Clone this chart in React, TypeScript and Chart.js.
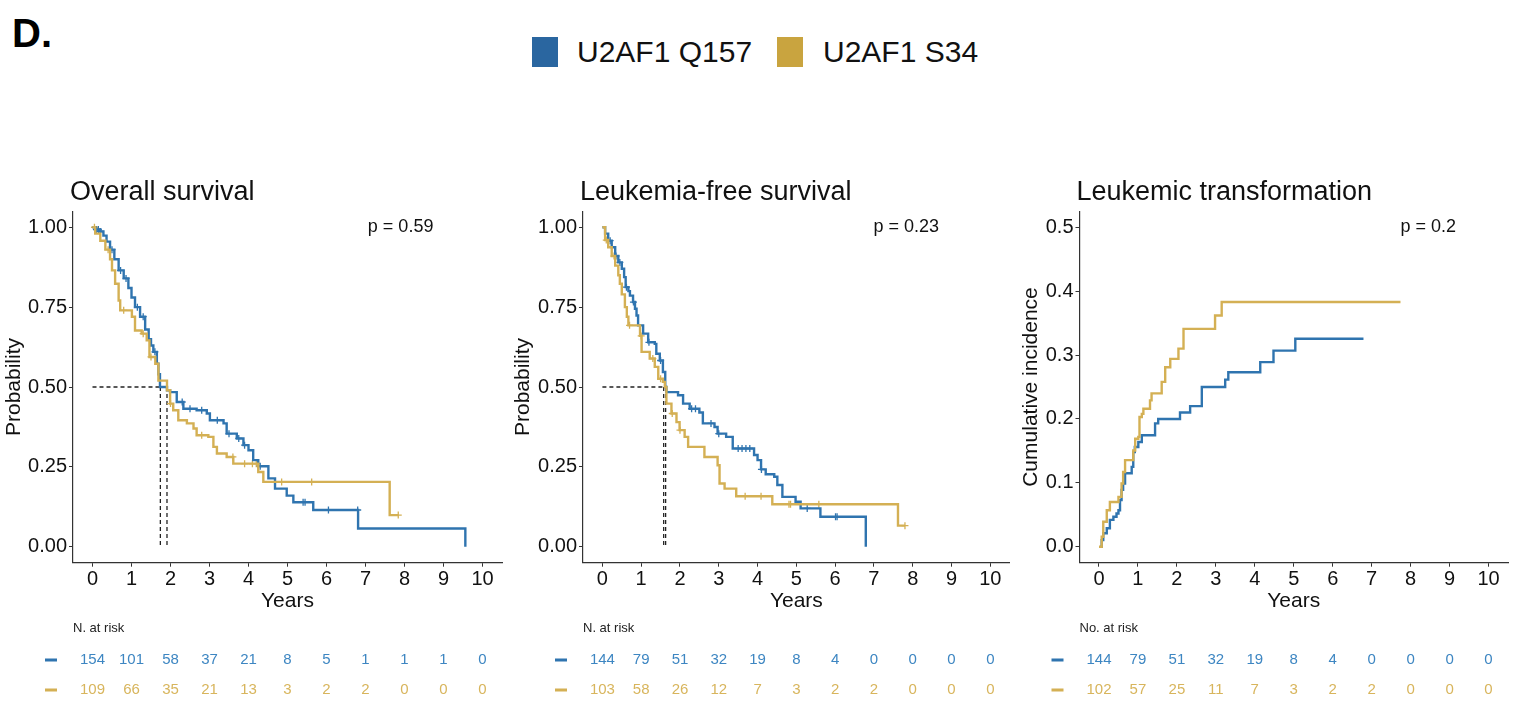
import React, { useEffect, useRef } from 'react';
import { Chart, registerables } from 'chart.js';

Chart.register(...registerables);

// ---------------- DATA ----------------
const X_TICKS = [0, 1, 2, 3, 4, 5, 6, 7, 8, 9, 10];
const SURV_TICKS = [0, 0.25, 0.5, 0.75, 1.0];
const CI_TICKS = [0, 0.1, 0.2, 0.3, 0.4, 0.5];
const GROUPS = ['U2AF1 Q157', 'U2AF1 S34'];

// Overall survival
const osQ157Time = [0, 0.08, 0.2, 0.28, 0.36, 0.45, 0.56, 0.67, 0.8, 0.92, 1.0, 1.09, 1.22, 1.35, 1.44, 1.5, 1.56, 1.65, 1.69, 1.73, 1.91, 1.99, 2.16, 2.33, 2.67, 2.93, 3.01, 3.36, 3.44, 3.7, 3.87, 4.0, 4.12, 4.25, 4.51, 4.68, 4.98, 5.15, 5.66, 6.81, 9.56];
const osQ157Surv = [1.0, 0.993, 0.987, 0.974, 0.955, 0.93, 0.9, 0.865, 0.84, 0.81, 0.78, 0.75, 0.72, 0.68, 0.65, 0.63, 0.61, 0.573, 0.54, 0.5, 0.49, 0.484, 0.453, 0.432, 0.427, 0.417, 0.396, 0.386, 0.354, 0.339, 0.318, 0.302, 0.271, 0.252, 0.214, 0.182, 0.16, 0.139, 0.115, 0.057, 0];
const osQ157Cens = [0.1, 0.15, 0.2, 0.5, 0.72, 0.86, 1.15, 1.3, 1.6, 2.3, 2.5, 2.8, 3.2, 3.5, 3.75, 3.9, 4.3, 5.4, 5.45, 6.05, 6.8];
const osS34Time = [0, 0.07, 0.2, 0.33, 0.45, 0.5, 0.58, 0.67, 0.71, 1.01, 1.09, 1.26, 1.39, 1.46, 1.61, 1.69, 1.91, 1.99, 2.07, 2.2, 2.42, 2.59, 2.67, 2.97, 3.1, 3.19, 3.44, 3.61, 4.25, 4.38, 7.62, 7.84];
const osS34Surv = [1.0, 0.98, 0.958, 0.93, 0.9, 0.865, 0.823, 0.771, 0.74, 0.72, 0.677, 0.667, 0.646, 0.594, 0.573, 0.52, 0.49, 0.448, 0.427, 0.396, 0.386, 0.37, 0.349, 0.344, 0.3125, 0.292, 0.281, 0.26, 0.234, 0.203, 0.099, 0.099];
const osS34Cens = [0.05, 0.4, 0.8, 1.3, 1.5, 2.0, 2.8, 3.6, 3.9, 4.1, 4.2, 4.85, 5.62, 7.84];
const osMedians = [1.74, 1.91];
const osRiskQ157 = [154, 101, 58, 37, 21, 8, 5, 1, 1, 1, 0];
const osRiskS34 = [109, 66, 35, 21, 13, 3, 2, 2, 0, 0, 0];

// Leukemia-free survival
const lfsQ157Time = [0, 0.07, 0.15, 0.24, 0.33, 0.41, 0.5, 0.56, 0.6, 0.67, 0.71, 0.79, 0.84, 0.88, 0.92, 1.05, 1.18, 1.35, 1.39, 1.48, 1.56, 1.62, 1.65, 1.95, 2.08, 2.25, 2.5, 2.59, 2.89, 2.97, 3.19, 3.36, 3.91, 4.0, 4.09, 4.21, 4.43, 4.51, 4.64, 4.98, 5.11, 5.62, 6.79];
const lfsQ157Surv = [1.0, 0.98, 0.958, 0.9375, 0.91, 0.89, 0.87, 0.844, 0.8125, 0.8, 0.786, 0.766, 0.745, 0.724, 0.693, 0.667, 0.64, 0.635, 0.604, 0.583, 0.547, 0.5, 0.484, 0.474, 0.448, 0.432, 0.42, 0.386, 0.375, 0.354, 0.344, 0.3075, 0.287, 0.271, 0.242, 0.227, 0.219, 0.193, 0.156, 0.141, 0.12, 0.094, 0];
const lfsQ157Cens = [0.2, 0.35, 0.45, 0.62, 0.8, 1.2, 1.5, 2.3, 2.4, 2.8, 3.0, 3.5, 3.6, 3.7, 3.8, 4.1, 5.28, 6.01, 6.05];
const lfsS34Time = [0, 0.07, 0.15, 0.24, 0.33, 0.41, 0.45, 0.5, 0.58, 0.63, 0.67, 0.97, 1.01, 1.22, 1.35, 1.44, 1.56, 1.61, 1.65, 1.78, 1.91, 1.99, 2.12, 2.21, 2.63, 2.97, 3.02, 3.15, 3.45, 4.38, 7.62, 7.8];
const lfsS34Surv = [1.0, 0.96, 0.9375, 0.91, 0.88, 0.85, 0.823, 0.79, 0.75, 0.72, 0.693, 0.66, 0.61, 0.589, 0.563, 0.526, 0.516, 0.5, 0.448, 0.417, 0.39, 0.365, 0.344, 0.3125, 0.281, 0.255, 0.198, 0.182, 0.158, 0.133, 0.066, 0.066];
const lfsS34Cens = [0.1, 0.3, 0.7, 1.0, 1.3, 1.5, 1.8, 2.0, 3.68, 4.09, 4.81, 4.85, 5.58, 7.8];
const lfsMedians = [1.58, 1.63];
const lfsRiskQ157 = [144, 79, 51, 32, 19, 8, 4, 0, 0, 0, 0];
const lfsRiskS34 = [103, 58, 26, 12, 7, 3, 2, 2, 0, 0, 0];

// Leukemic transformation (cumulative incidence)
const ltQ157Time = [0.03, 0.07, 0.11, 0.2, 0.28, 0.37, 0.45, 0.5, 0.54, 0.58, 0.62, 0.67, 0.84, 0.88, 0.92, 1.01, 1.1, 1.44, 1.52, 2.08, 2.34, 2.64, 3.24, 3.32, 4.14, 4.48, 5.04, 6.79];
const ltQ157Inc = [0, 0.0104, 0.021, 0.029, 0.042, 0.047, 0.052, 0.057, 0.073, 0.089, 0.099, 0.115, 0.125, 0.148, 0.156, 0.164, 0.1745, 0.193, 0.2, 0.21, 0.22, 0.25, 0.2615, 0.273, 0.289, 0.307, 0.3255, 0.3255];
const ltS34Time = [0, 0.07, 0.11, 0.2, 0.28, 0.5, 0.58, 0.62, 0.67, 0.88, 0.93, 1.01, 1.04, 1.1, 1.14, 1.31, 1.35, 1.61, 1.7, 1.83, 2.04, 2.17, 2.98, 3.15, 7.74];
const ltS34Inc = [0, 0.0156, 0.039, 0.057, 0.07, 0.078, 0.099, 0.117, 0.1355, 0.1505, 0.169, 0.172, 0.203, 0.208, 0.216, 0.229, 0.24, 0.258, 0.281, 0.294, 0.31, 0.341, 0.362, 0.383, 0.383];
const ltRiskQ157 = [144, 79, 51, 32, 19, 8, 4, 0, 0, 0, 0];
const ltRiskS34 = [102, 57, 25, 11, 7, 3, 2, 2, 0, 0, 0];

// ---------------- STYLE ----------------
const FONT = '"Liberation Sans", Arial, Helvetica, sans-serif';
const BLUE = '#2F74AF';
const GOLD = '#D4B054';
const BLUE_TXT = '#3D86C2';
const GOLD_TXT = '#D8B55C';
const AXIS = '#333333';
const CANVAS_TOP = 150;
const CANVAS_H = 557;

const pts = (t: number[], v: number[]) => t.map((x, i) => ({ x, y: v[i] }));
const stepAt = (t: number[], v: number[], x: number) => {
  let y = v[0];
  for (let i = 0; i < t.length; i++) if (t[i] <= x) y = v[i];
  return y;
};
const censPts = (t: number[], v: number[], c: number[]) => c.map((x) => ({ x, y: stepAt(t, v, x) }));

type Panel = {
  left: number; width: number; yWidth: number; padRight: number;
  title: string; yTitle: string; yTitleX: number;
  yMin: number; yMax: number; yTicks: number[]; yDigits: number;
  pText: string; pX: number; pY: number;
  riskLabel: string; riskA: number[]; riskB: number[];
  aT: number[]; aV: number[]; bT: number[]; bV: number[];
  aC?: number[]; bC?: number[]; medians?: number[];
};

const PANELS: Panel[] = [
  {
    left: 0, width: 510, yWidth: 73, padRight: 8,
    title: 'Overall survival', yTitle: 'Probability', yTitleX: 20,
    yMin: -0.05, yMax: 1.05, yTicks: SURV_TICKS, yDigits: 2,
    pText: 'p = 0.59', pX: 7.06, pY: 1.0,
    riskLabel: 'N. at risk', riskA: osRiskQ157, riskB: osRiskS34,
    aT: osQ157Time, aV: osQ157Surv, bT: osS34Time, bV: osS34Surv,
    aC: osQ157Cens, bC: osS34Cens, medians: osMedians,
  },
  {
    left: 510, width: 505, yWidth: 73, padRight: 3,
    title: 'Leukemia-free survival', yTitle: 'Probability', yTitleX: 529,
    yMin: -0.05, yMax: 1.05, yTicks: SURV_TICKS, yDigits: 2,
    pText: 'p = 0.23', pX: 6.99, pY: 1.0,
    riskLabel: 'N. at risk', riskA: lfsRiskQ157, riskB: lfsRiskS34,
    aT: lfsQ157Time, aV: lfsQ157Surv, bT: lfsS34Time, bV: lfsS34Surv,
    aC: lfsQ157Cens, bC: lfsS34Cens, medians: lfsMedians,
  },
  {
    left: 1015, width: 511, yWidth: 64.5, padRight: 18,
    title: 'Leukemic transformation', yTitle: 'Cumulative incidence', yTitleX: 1037,
    yMin: -0.025, yMax: 0.525, yTicks: CI_TICKS, yDigits: 1,
    pText: 'p = 0.2', pX: 7.74, pY: 0.5,
    riskLabel: 'No. at risk', riskA: ltRiskQ157, riskB: ltRiskS34,
    aT: ltQ157Time, aV: ltQ157Inc, bT: ltS34Time, bV: ltS34Inc,
  },
];

function makeTextPlugin(p: Panel) {
  return {
    id: 'panelText',
    afterDraw(chart: any) {
      const { ctx, chartArea, scales } = chart;
      const xs = scales.x;
      const ys = scales.y;
      ctx.save();
      ctx.fillStyle = '#111';
      // title
      ctx.font = `27px ${FONT}`;
      ctx.textAlign = 'left';
      ctx.textBaseline = 'alphabetic';
      ctx.fillText(p.title, chartArea.left - 3, 200 - CANVAS_TOP);
      // p value
      ctx.font = `18px ${FONT}`;
      ctx.textBaseline = 'middle';
      ctx.fillText(p.pText, xs.getPixelForValue(p.pX), ys.getPixelForValue(p.pY));
      // x title
      ctx.font = `21px ${FONT}`;
      ctx.textAlign = 'center';
      ctx.textBaseline = 'alphabetic';
      ctx.fillText('Years', (chartArea.left + chartArea.right) / 2, 607 - CANVAS_TOP);
      // y title
      ctx.save();
      ctx.translate(p.yTitleX - p.left, (chartArea.top + chartArea.bottom) / 2);
      ctx.rotate(-Math.PI / 2);
      ctx.fillText(p.yTitle, 0, 0);
      ctx.restore();
      // risk table
      ctx.fillStyle = '#222';
      ctx.font = `13px ${FONT}`;
      ctx.textAlign = 'left';
      ctx.fillText(p.riskLabel, chartArea.left, 632 - CANVAS_TOP);
      const rowA = 660 - CANVAS_TOP;
      const rowB = 690 - CANVAS_TOP;
      ctx.fillStyle = BLUE;
      ctx.fillRect(chartArea.left - 28, rowA - 1.5, 12, 3);
      ctx.fillStyle = GOLD;
      ctx.fillRect(chartArea.left - 28, rowB - 1.5, 12, 3);
      ctx.font = `15px ${FONT}`;
      ctx.textAlign = 'center';
      ctx.textBaseline = 'middle';
      X_TICKS.forEach((t, i) => {
        const x = xs.getPixelForValue(t);
        ctx.fillStyle = BLUE_TXT;
        ctx.fillText(String(p.riskA[i]), x, rowA);
        ctx.fillStyle = GOLD_TXT;
        ctx.fillText(String(p.riskB[i]), x, rowB);
      });
      ctx.restore();
    },
  };
}

function PanelChart({ p }: { p: Panel }) {
  const ref = useRef<HTMLCanvasElement | null>(null);
  useEffect(() => {
    if (!ref.current) return;
    const datasets: any[] = [];
    const lineStyle = { pointRadius: 0, borderWidth: 2.4, stepped: true, fill: false, tension: 0 };
    datasets.push({ label: GROUPS[1], data: pts(p.bT, p.bV), borderColor: GOLD, ...lineStyle });
    datasets.push({ label: GROUPS[0], data: pts(p.aT, p.aV), borderColor: BLUE, ...lineStyle });
    const censStyle = { showLine: false, pointStyle: 'cross', pointRadius: 3.5, pointBorderWidth: 1.3 };
    if (p.aC) datasets.push({ data: censPts(p.aT, p.aV, p.aC), pointBorderColor: BLUE, borderColor: BLUE, ...censStyle });
    if (p.bC) datasets.push({ data: censPts(p.bT, p.bV, p.bC), pointBorderColor: GOLD, borderColor: GOLD, ...censStyle });
    if (p.medians) {
      const dash = { borderColor: '#222', borderWidth: 1.3, borderDash: [4, 3], pointRadius: 0, fill: false };
      const mx = Math.max(...p.medians);
      datasets.push({ data: [{ x: 0, y: 0.5 }, { x: mx, y: 0.5 }], ...dash });
      p.medians.forEach((m) => datasets.push({ data: [{ x: m, y: 0.5 }, { x: m, y: 0 }], ...dash }));
    }
    const chart = new Chart(ref.current, {
      type: 'line',
      data: { datasets },
      options: {
        animation: false,
        responsive: false,
        devicePixelRatio: 1,
        layout: { padding: { left: 0, right: p.padRight, top: 211.3 - CANVAS_TOP, bottom: CANVAS_H - (562.7 - CANVAS_TOP) - 30 } },
        plugins: { legend: { display: false }, tooltip: { enabled: false }, title: { display: false } },
        scales: {
          x: {
            type: 'linear', min: -0.5, max: 10.5,
            afterBuildTicks: (s: any) => { s.ticks = X_TICKS.map((v) => ({ value: v })); },
            afterFit: (s: any) => { s.height = 30; },
            grid: { drawOnChartArea: false, drawTicks: true, tickLength: 4, color: AXIS, lineWidth: 1 },
            border: { display: true, color: AXIS, width: 1.2 },
            ticks: { font: { family: FONT, size: 20 }, color: '#111', padding: 1, maxRotation: 0, autoSkip: false, callback: (v: any) => String(v) },
          },
          y: {
            type: 'linear', min: p.yMin, max: p.yMax,
            afterBuildTicks: (s: any) => { s.ticks = p.yTicks.map((v) => ({ value: v })); },
            afterFit: (s: any) => { s.width = p.yWidth; },
            grid: { drawOnChartArea: false, drawTicks: true, tickLength: 4, color: AXIS, lineWidth: 1 },
            border: { display: true, color: AXIS, width: 1.2 },
            ticks: { font: { family: FONT, size: 20 }, color: '#111', padding: 2, autoSkip: false, callback: (v: any) => Number(v).toFixed(p.yDigits) },
          },
        },
      } as any,
      plugins: [makeTextPlugin(p)],
    });
    return () => chart.destroy();
  }, [p]);
  return (
    <canvas
      ref={ref}
      width={p.width}
      height={CANVAS_H}
      style={{ position: 'absolute', left: p.left, top: CANVAS_TOP, width: p.width, height: CANVAS_H }}
    />
  );
}

export default function App() {
  const legendText: React.CSSProperties = { position: 'absolute', top: 37, fontFamily: FONT, fontSize: 30, lineHeight: '30px', color: '#111', whiteSpace: 'nowrap' };
  return (
    <div style={{ position: 'absolute', left: 0, top: 0, width: 1526, height: 707, background: '#fff', overflow: 'hidden' }}>
      <div style={{ position: 'absolute', left: 12, top: 13, fontFamily: FONT, fontWeight: 'bold', fontSize: 40, lineHeight: '40px', color: '#000' }}>D.</div>
      <div style={{ position: 'absolute', left: 532, top: 37, width: 26, height: 30, background: '#2A66A0' }} />
      <div style={{ ...legendText, left: 577 }}>{GROUPS[0]}</div>
      <div style={{ position: 'absolute', left: 777, top: 37, width: 26, height: 30, background: '#C9A43F' }} />
      <div style={{ ...legendText, left: 823 }}>{GROUPS[1]}</div>
      {PANELS.map((p, i) => <PanelChart key={i} p={p} />)}
    </div>
  );
}
